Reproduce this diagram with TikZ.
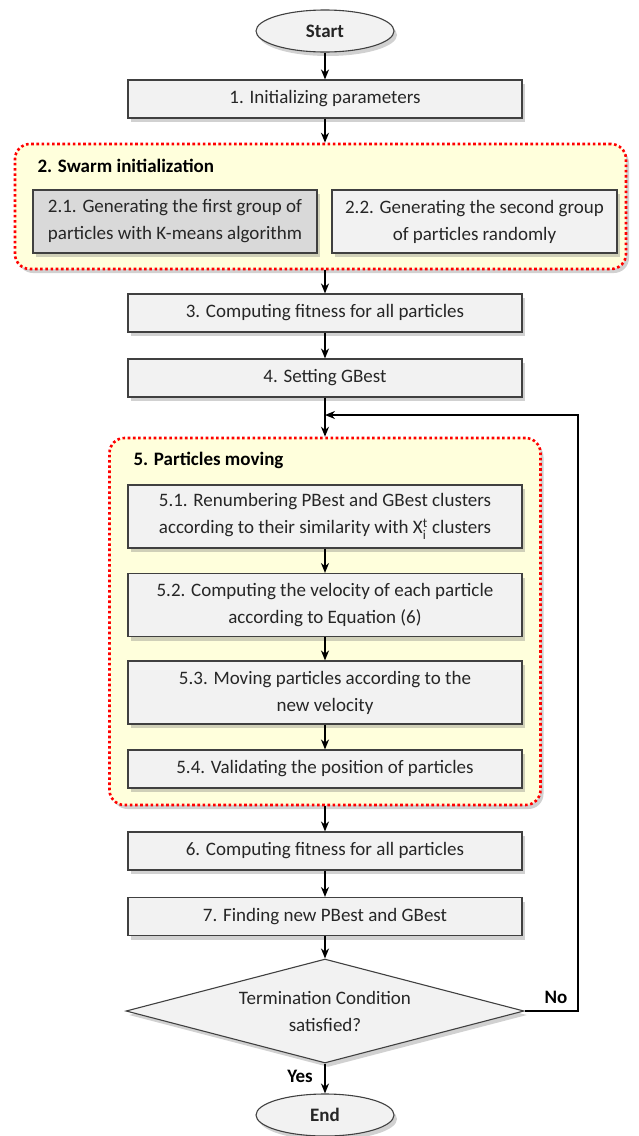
\documentclass[tikz,border=0pt]{standalone}
\usepackage{amsmath}
\usepackage{fontspec}
\setmainfont{Carlito}
\usetikzlibrary{arrows.meta}
\usetikzlibrary{shapes.geometric}
\usetikzlibrary{shadows}

\definecolor{boxgray}{HTML}{F2F2F2}
\definecolor{kmgray}{HTML}{D9D9D9}
\definecolor{groupyellow}{HTML}{FFFFDC}
\definecolor{dotred}{HTML}{FF0000}

\begin{document}
\begin{tikzpicture}[x=1pt,y=-1pt,
    every node/.style={font=\fontsize{19}{27}\selectfont, text=black!85},
    softshadow/.style={drop shadow={shadow xshift=3pt, shadow yshift=-4pt, opacity=0.3, fill=black!60}},
    stepbox/.style={draw=black!75, line width=1.1pt, fill=boxgray, align=center, inner sep=0pt, minimum width=394pt, minimum height=38pt, softshadow},
    twoline/.style={minimum height=63pt},
    halfbox/.style={stepbox, minimum width=285pt, minimum height=63pt},
    terminal/.style={ellipse, draw=black!75, line width=1.1pt, fill=boxgray, minimum width=138pt, minimum height=42pt, inner sep=0pt, font=\fontsize{19}{27}\selectfont\bfseries, softshadow},
    decision/.style={diamond, aspect=3.83, draw=black!75, line width=1.1pt, fill=boxgray, align=center, inner sep=0pt, minimum width=398pt, minimum height=104pt, softshadow},
    group/.style={draw=dotred, line width=2.6pt, dash pattern=on 2.6pt off 2.6pt, fill=groupyellow, rounded corners=15pt, inner sep=0pt, softshadow},
    grouptitle/.style={anchor=west, font=\fontsize{19}{27}\selectfont\bfseries, text=black},
    tag/.style={font=\fontsize{19}{27}\selectfont\bfseries, text=black},
    flow/.style={-{Stealth[length=10pt,width=8pt]}, line width=1.8pt, black}]

    \useasboundingbox (0,0) rectangle (638,1136);

    % start and initialization
    \node[terminal] (start) at (325,31) {Start};
    \node[stepbox] (init) at (325,99) {1. Initializing parameters};

    % group 2: swarm initialization
    \node[group, minimum width=611pt, minimum height=125pt] (swarm) at (320.5,206.5) {};
    \node[grouptitle] (swarmtitle) at (34,166) {2. Swarm initialization};
    \node[halfbox, fill=kmgray, minimum width=284pt] (kmeans) at (175,221.5) {2.1. Generating the first group of\\particles with K-means algorithm};
    \node[halfbox] (random) at (474.5,221.5) {2.2. Generating the second group\\of particles randomly};

    \node[stepbox] (fit1) at (325,313) {3. Computing fitness for all particles};
    \node[stepbox] (gbest) at (325,378) {4. Setting GBest};

    % group 5: particles moving
    \node[group, minimum width=431pt, minimum height=367pt] (moving) at (325,621.5) {};
    \node[grouptitle] (movingtitle) at (130,460) {5. Particles moving};
    \node[stepbox, twoline] (renum) at (325,516.5) {5.1. Renumbering PBest and GBest clusters\\according to their similarity with X$_{\text{i}}^{\text{t}}$ clusters};
    \node[stepbox, twoline] (velo) at (325,605) {5.2. Computing the velocity of each particle\\according to Equation (6)};
    \node[stepbox, twoline] (move) at (325,692.5) {5.3. Moving particles according to the\\new velocity};
    \node[stepbox] (valid) at (325,769) {5.4. Validating the position of particles};

    \node[stepbox] (fit2) at (325,851) {6. Computing fitness for all particles};
    \node[stepbox] (newbest) at (325,916.5) {7. Finding new PBest and GBest};

    % termination test
    \node[decision] (cond) at (325,1011) {Termination Condition\\satisfied?};
    \node[terminal] (end) at (325,1115) {End};
    \node[tag] (no) at (556,997) {No};
    \node[tag] (yes) at (300,1076) {Yes};

    % connectors
    \draw[flow] (start) -- (init);
    \draw[flow] (init) -- (init |- swarm.north);
    \draw[flow] (init |- swarm.south) -- (fit1);
    \draw[flow] (fit1) -- (gbest);
    \draw[flow] (gbest) -- (moving.north);
    \draw[flow] (renum) -- (velo);
    \draw[flow] (velo) -- (move);
    \draw[flow] (move) -- (valid);
    \draw[flow] (moving.south) -- (fit2);
    \draw[flow] (fit2) -- (newbest);
    \draw[flow] (newbest) -- (cond);
    \draw[flow] (cond) -- (end);

    % loop back
    \coordinate (loopin) at (325,415);
    \coordinate (loopright) at (578,415);
    \draw[flow] (cond.east) -| (loopright) -- (loopin);
\end{tikzpicture}
\end{document}
